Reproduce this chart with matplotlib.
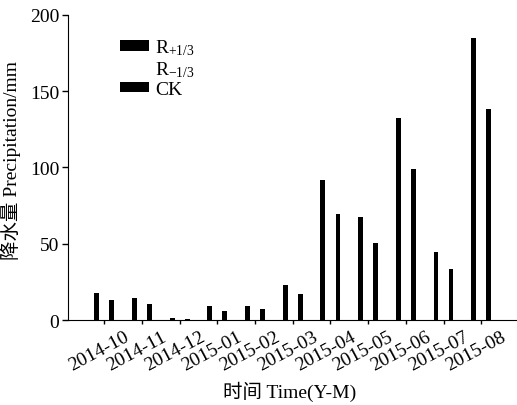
#!/usr/bin/env python3

import numpy as np
import matplotlib
matplotlib.use("Agg")
import matplotlib.pyplot as plt
import matplotlib.transforms as mtransforms

months = ["2014-10", "2014-11", "2014-12", "2015-01", "2015-02", "2015-03",
          "2015-04", "2015-05", "2015-06", "2015-07", "2015-08"]
r_plus = [18.1, 14.2, 1.1, 9.2, 9.2, 23.3, 92.0, 67.6, 132.3, 44.4, 185.0]
r_minus = [8.7, 6.9, 0.7, 4.2, 4.8, 11.7, 46.5, 33.7, 66.0, 22.3, 92.3]
ck = [13.1, 10.3, 1.0, 6.3, 7.2, 17.3, 69.8, 50.6, 98.9, 33.4, 138.4]

plt.rcParams['font.family'] = ['Liberation Serif', 'Noto Sans CJK SC']
plt.rcParams['mathtext.fontset'] = 'custom'
plt.rcParams['mathtext.rm'] = 'Liberation Serif'
plt.rcParams['mathtext.it'] = 'Liberation Serif'


def plot():
    fig = plt.figure(figsize=(5.17, 4.06), dpi=100)
    ax = fig.add_axes([0.131, 0.209, 0.869, 0.752])

    x = np.arange(len(months))
    w = 0.13
    ax.bar(x - 0.2, r_plus, w, color='black', label=r'R$_{\mathregular{+1/3}}$')
    ax.bar(x, r_minus, w, color='white', label=r'R$_{\mathregular{-1/3}}$')
    ax.bar(x + 0.2, ck, w, color='black', label='CK')

    ax.set_xlim(-0.97, 10.95)
    ax.set_ylim(0, 200)
    ax.set_yticks([0, 50, 100, 150, 200])
    ax.set_xticks(x)

    for s in ['top', 'right']:
        ax.spines[s].set_visible(False)
    ax.tick_params(axis='both', direction='out', width=1)
    ax.tick_params(axis='x', length=3, pad=19, labelsize=14)
    ax.tick_params(axis='y', length=4, pad=2, labelsize=14)

    # labels sit a little left of their ticks in the original
    ax.set_xticklabels(months, rotation=28, ha='center', va='center',
                       rotation_mode='anchor')
    shift = mtransforms.ScaledTranslation(-0.05, 0, fig.dpi_scale_trans)
    for lab in ax.get_xticklabels():
        lab.set_transform(lab.get_transform() + shift)

    ax.set_xlabel('时间 Time(Y-M)', fontsize=14)
    ax.xaxis.set_label_coords(0.495, -0.197)
    ax.set_ylabel('降水量 Precipitation/mm', fontsize=14)
    ax.yaxis.set_label_coords(-0.104, 0.525)

    ax.legend(loc='upper left', bbox_to_anchor=(0.116, 0.925), frameon=False,
              fontsize=14, handlelength=1.5, handleheight=0.47,
              handletextpad=0.3, labelspacing=0.1, borderpad=0,
              borderaxespad=0)

    plt.savefig("out.png", dpi=100)


if __name__ == "__main__":
    plot()
